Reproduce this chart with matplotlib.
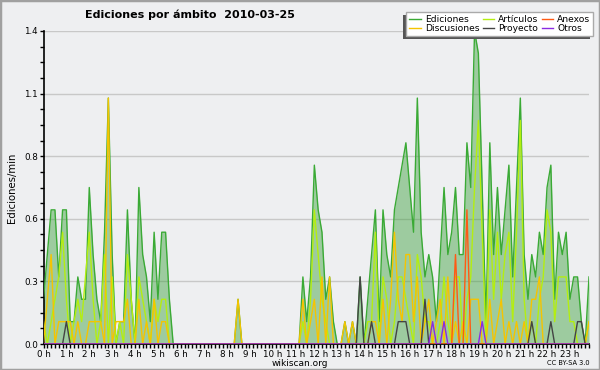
import numpy as np
import matplotlib
matplotlib.use('Agg')
import matplotlib.pyplot as plt
from matplotlib.patches import Rectangle
from matplotlib.lines import Line2D
from matplotlib.ticker import MultipleLocator, FixedLocator, FuncFormatter

hour_labels = [f"{h} h" for h in range(24)]
series_names = ["Ediciones", "Artículos", "Anexos", "Discusiones", "Proyecto", "Otros"]

def sparse(d, n=144):
    v = [0.0] * n
    for k, val in d.items():
        v[k] = val
    return v

ediciones = sparse({
    0: 0.2, 1: 0.4, 2: 0.6, 3: 0.6, 4: 0.3, 5: 0.6, 6: 0.6, 7: 0.1, 8: 0.1, 9: 0.3,
    10: 0.2, 11: 0.2, 12: 0.7, 13: 0.4, 14: 0.2, 15: 0.1, 16: 0.5, 17: 1.1, 18: 0.4,
    20: 0.1, 21: 0.1, 22: 0.6, 23: 0.2, 25: 0.7, 26: 0.4, 27: 0.3, 28: 0.1, 29: 0.5,
    30: 0.2, 31: 0.5, 32: 0.5, 33: 0.2,
    51: 0.2,
    68: 0.3, 69: 0.1, 70: 0.3, 71: 0.8, 72: 0.6, 73: 0.5, 74: 0.2, 75: 0.3, 76: 0.1,
    79: 0.1, 81: 0.1, 83: 0.3, 85: 0.2, 86: 0.4, 87: 0.6, 88: 0.1, 89: 0.6,
    90: 0.4, 91: 0.3, 92: 0.6, 93: 0.7, 94: 0.8, 95: 0.9, 96: 0.7, 97: 0.5, 98: 1.1,
    99: 0.5, 100: 0.3, 101: 0.4, 102: 0.3, 103: 0.1, 104: 0.4, 105: 0.7, 106: 0.4,
    107: 0.5, 108: 0.7, 109: 0.4, 110: 0.4, 111: 0.9, 112: 0.7, 113: 1.4, 114: 1.3,
    115: 0.7, 116: 0.1, 117: 0.9, 118: 0.4, 119: 0.7, 120: 0.4, 121: 0.6, 122: 0.8,
    123: 0.3, 124: 0.7, 125: 1.1, 126: 0.4, 127: 0.2, 128: 0.4, 129: 0.3, 130: 0.5,
    131: 0.4, 132: 0.7, 133: 0.8, 134: 0.2, 135: 0.5, 136: 0.4, 137: 0.5, 138: 0.2,
    139: 0.3, 140: 0.3, 141: 0.1, 143: 0.3,
})

articulos = sparse({
    0: 0.1, 2: 0.1, 3: 0.2, 4: 0.3, 5: 0.5, 6: 0.2, 8: 0.1, 9: 0.2, 10: 0.1, 11: 0.3,
    12: 0.5, 13: 0.2, 15: 0.1, 16: 0.4, 18: 0.3, 20: 0.1, 22: 0.4, 23: 0.2, 25: 0.3,
    26: 0.2, 27: 0.1, 29: 0.2, 30: 0.1, 31: 0.2, 32: 0.2,
    68: 0.1, 70: 0.2, 71: 0.6, 72: 0.4, 73: 0.2, 74: 0.1,
    85: 0.1, 86: 0.1, 87: 0.5, 89: 0.3, 90: 0.2, 92: 0.1, 93: 0.3, 94: 0.3, 95: 0.2,
    96: 0.1, 98: 0.4, 99: 0.3, 100: 0.1, 101: 0.1, 104: 0.1, 105: 0.3, 106: 0.1,
    108: 0.3, 109: 0.3, 111: 0.2, 112: 0.3, 113: 0.7, 114: 1.0, 115: 0.5, 117: 0.6,
    118: 0.2, 119: 0.5, 120: 0.2, 121: 0.4, 122: 0.5, 123: 0.1, 124: 0.5, 125: 1.0,
    126: 0.2, 128: 0.1, 130: 0.2, 131: 0.3, 132: 0.6, 133: 0.5, 134: 0.1, 135: 0.3,
    136: 0.3, 137: 0.3, 138: 0.1, 139: 0.1, 143: 0.1,
})

anexos = sparse({108: 0.4, 111: 0.6})

discusiones = sparse({
    1: 0.2, 2: 0.4, 4: 0.1, 5: 0.1, 6: 0.1, 7: 0.1, 9: 0.1, 12: 0.1, 13: 0.1, 14: 0.1,
    15: 0.1, 17: 1.1, 19: 0.1, 20: 0.1, 21: 0.1, 22: 0.2, 25: 0.2, 27: 0.1, 29: 0.2,
    31: 0.1, 32: 0.1,
    51: 0.2,
    68: 0.2, 70: 0.1, 71: 0.2, 73: 0.3, 75: 0.3, 79: 0.1, 81: 0.1,
    86: 0.1, 87: 0.1, 89: 0.2, 91: 0.2, 92: 0.5, 93: 0.2, 94: 0.1, 95: 0.4, 96: 0.4,
    97: 0.1, 98: 0.3, 100: 0.1, 101: 0.2, 103: 0.1, 104: 0.2, 106: 0.3, 108: 0.1,
    110: 0.1, 112: 0.2, 113: 0.2, 114: 0.2, 117: 0.2, 119: 0.1, 120: 0.2, 122: 0.1,
    124: 0.1, 126: 0.1, 128: 0.2, 129: 0.2, 130: 0.3, 143: 0.1,
})

proyecto = sparse({6: 0.1, 83: 0.3, 86: 0.1, 93: 0.1, 94: 0.1, 95: 0.1, 100: 0.2,
                   128: 0.1, 133: 0.1, 140: 0.1, 141: 0.1})

otros = sparse({102: 0.1, 105: 0.1, 115: 0.1})

x = np.arange(144) / 6.0

BG = '#eeeff1'
fig = plt.figure(figsize=(6, 3.7), dpi=100)
fig.patch.set_facecolor(BG)
ax = fig.add_axes([43.5 / 600, 1 - 344 / 370, (589 - 43.5) / 600, (344 - 31) / 370])
ax.set_facecolor(BG)

ax.set_xlim(0, 143 / 6.0)
ax.set_ylim(0, 1.4)

ax.yaxis.set_major_locator(FixedLocator([0, 0.28, 0.56, 0.84, 1.12, 1.4]))
ax.yaxis.set_minor_locator(MultipleLocator(0.07))
ax.yaxis.set_major_formatter(FuncFormatter(lambda v, p: f"{v:.1f}"))
ax.xaxis.set_major_locator(FixedLocator(range(24)))
ax.xaxis.set_minor_locator(MultipleLocator(1 / 6.0))
ax.set_xticklabels(hour_labels)

ax.grid(axis='y', which='major', color='#c8c8c8', lw=1, zorder=0)
ax.set_axisbelow(True)
for s in ['top', 'right']:
    ax.spines[s].set_visible(False)
for s in ['left', 'bottom']:
    ax.spines[s].set_linewidth(1.2)
    ax.spines[s].set_color('black')
ax.tick_params(which='both', direction='out', length=3, width=1, labelsize=6.3, pad=1)

ax.fill_between(x, ediciones, 0, color='#3ca03c', alpha=0.45, lw=0, zorder=2)
cols = {"Ediciones": '#3aaa35', "Artículos": '#b4ee10', "Anexos": '#ff5a14',
        "Discusiones": '#f5c400', "Proyecto": '#444444', "Otros": '#8a2be2'}
data = {"Ediciones": ediciones, "Artículos": articulos, "Anexos": anexos,
        "Discusiones": discusiones, "Proyecto": proyecto, "Otros": otros}
order = ["Ediciones", "Artículos", "Discusiones", "Proyecto", "Anexos", "Otros"]
for z, name in enumerate(order):
    ax.plot(x, data[name], color=cols[name], lw=1.0, zorder=3 + z)

ax.set_ylabel('Ediciones/min', fontsize=7.3, labelpad=5)

fig.text(85 / 600, 1 - 15 / 370, 'Ediciones por ámbito  2010-03-25', fontsize=8,
         fontweight='bold', va='center', ha='left')
fig.text(0.5, 1 - 363 / 370, 'wikiscan.org', fontsize=6.5, ha='center', va='center')
fig.text(590 / 600, 1 - 363 / 370, 'CC BY-SA 3.0', fontsize=4.8, ha='right', va='center')

leg_order = ["Ediciones", "Discusiones", "Artículos", "Proyecto", "Anexos", "Otros"]
handles = [Line2D([], [], color=cols[n], lw=1.0) for n in leg_order]
leg = fig.legend(handles, leg_order, ncol=3, loc='upper right',
                 bbox_to_anchor=(593 / 600, 1 - 12 / 370), borderaxespad=0,
                 fontsize=6.6, handlelength=1.3, handletextpad=0.4, columnspacing=0.35,
                 borderpad=0.3, labelspacing=0.05, fancybox=False,
                 framealpha=1, facecolor='white', edgecolor='#aaaaaa')
leg.get_frame().set_linewidth(1.0)
leg.set_zorder(10)

fig.canvas.draw()
bb = leg.get_window_extent().transformed(fig.transFigure.inverted())
fig.patches.append(Rectangle((bb.x0 - 3 / 600, bb.y0 - 3 / 370), bb.width, bb.height,
                             transform=fig.transFigure, facecolor='#555555',
                             edgecolor='none', zorder=9))
fig.patches.append(Rectangle((0, 0), 1, 1, transform=fig.transFigure, fill=False,
                             edgecolor='#a0a0a0', lw=2.5, zorder=20))

fig.savefig('out.png', dpi=100, facecolor=BG)
